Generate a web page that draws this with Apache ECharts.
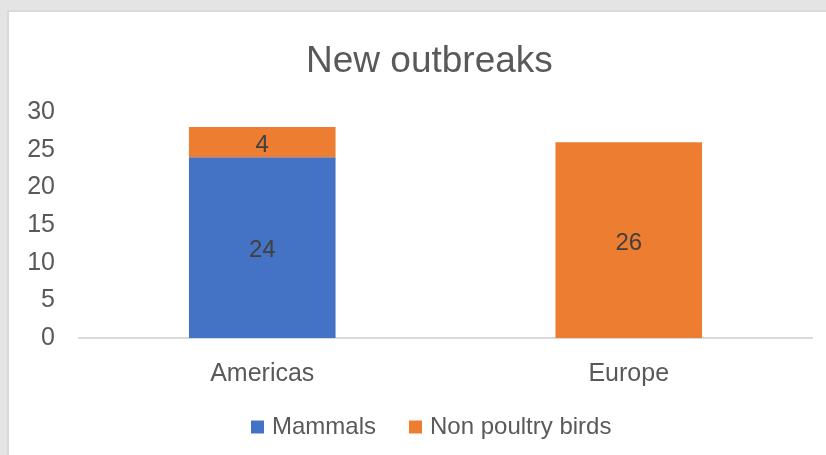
<!DOCTYPE html>
<html>
<head>
<meta charset="utf-8">
<script src="https://cdn.jsdelivr.net/npm/echarts@6/dist/echarts.min.js"></script>
<style>
  html, body { margin: 0; padding: 0; width: 826px; height: 455px; background: #e4e4e4; overflow: hidden; }
  #panel { position: absolute; left: 7px; top: 10px; width: 830px; height: 460px; background: #ffffff; border: 2px solid #d9d9d9; box-sizing: border-box; }
  #chart { position: absolute; left: 0; top: 0; width: 826px; height: 455px; }
</style>
</head>
<body>
<div id="panel"></div>
<div id="chart"></div>
<script>
const categories = ['Americas', 'Europe'];
const mammals = [24, null];
const nonPoultryBirds = [4, 26];
const yTicks = { min: 0, max: 30, interval: 5 };

const font = 'Liberation Sans, Arial, sans-serif';
const chart = echarts.init(document.getElementById('chart'), null, { renderer: 'canvas' });
const labelStyle = { show: true, position: 'inside', offset: [0, 3], color: '#404040', fontSize: 24, fontFamily: font,
  formatter: p => (p.value == null ? '' : p.value) };

chart.setOption({
  backgroundColor: 'transparent',
  animation: false,
  title: {
    text: 'New outbreaks', left: 301, top: 38,
    textStyle: { color: '#595959', fontSize: 37, fontWeight: 'normal', fontFamily: font }
  },
  grid: { left: 79, right: 14, top: 112, bottom: 117, containLabel: false },
  xAxis: {
    type: 'category', data: categories,
    axisLine: { lineStyle: { color: '#d9d9d9', width: 2 } },
    axisTick: { show: false },
    axisLabel: { color: '#595959', fontSize: 25, fontFamily: font, margin: 24 }
  },
  yAxis: {
    type: 'value', min: yTicks.min, max: yTicks.max, interval: yTicks.interval,
    splitLine: { show: false }, axisLine: { show: false }, axisTick: { show: false },
    axisLabel: { color: '#595959', fontSize: 25, fontFamily: font, margin: 24 }
  },
  legend: {
    bottom: 11, left: 246, itemWidth: 13, itemHeight: 13, itemGap: 33,
    icon: 'rect',
    textStyle: { color: '#595959', fontSize: 24, fontFamily: font, padding: [0, 0, 0, 3] },
    data: ['Mammals', 'Non poultry birds']
  },
  series: [
    { name: 'Mammals', type: 'bar', stack: 'total', data: mammals, barWidth: '40%',
      itemStyle: { color: '#4472c4' }, label: labelStyle },
    { name: 'Non poultry birds', type: 'bar', stack: 'total', data: nonPoultryBirds, barWidth: '40%',
      itemStyle: { color: '#ed7d31' }, label: labelStyle }
  ]
});
</script>
</body>
</html>
